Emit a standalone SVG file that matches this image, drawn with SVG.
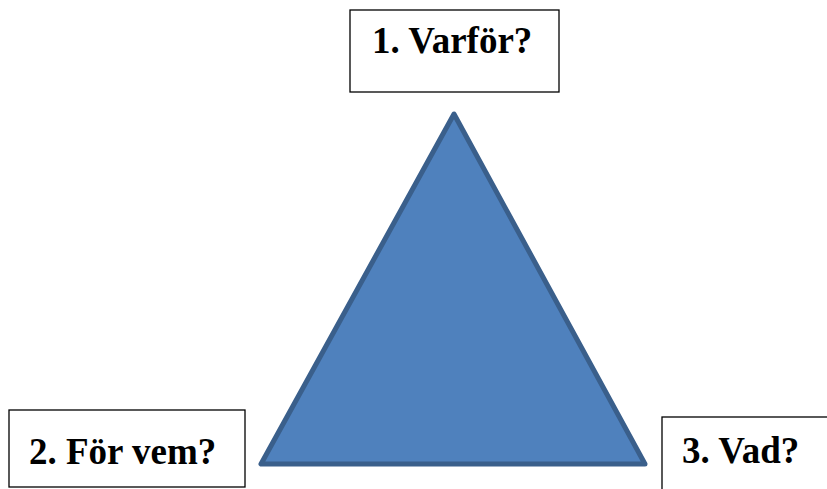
<svg xmlns="http://www.w3.org/2000/svg" width="827" height="489" viewBox="0 0 827 489">
<style>
.box{fill:#fff;stroke:#000;stroke-width:1.3}
.lbl{font-family:"Liberation Serif","Times New Roman",serif;font-weight:bold;font-size:37px;fill:#000}
</style>
<rect width="827" height="489" fill="#fff"/>
<g id="triangle">
<polygon points="454,114 261,464 645,464" fill="#4F81BD" stroke="#3A5F8B" stroke-width="5" stroke-linejoin="round"/>
</g>
<g id="node1">
<rect class="box" x="350" y="10" width="209" height="82"/>
<text class="lbl" x="372" y="53">1. Varför?</text>
</g>
<g id="node2">
<rect class="box" x="9" y="410" width="236" height="77"/>
<text class="lbl" x="29" y="464">2. För vem?</text>
</g>
<g id="node3">
<rect class="box" x="662" y="417" width="180" height="90"/>
<text class="lbl" x="682" y="463">3. Vad?</text>
</g>
<g id="connectors"/>
</svg>
